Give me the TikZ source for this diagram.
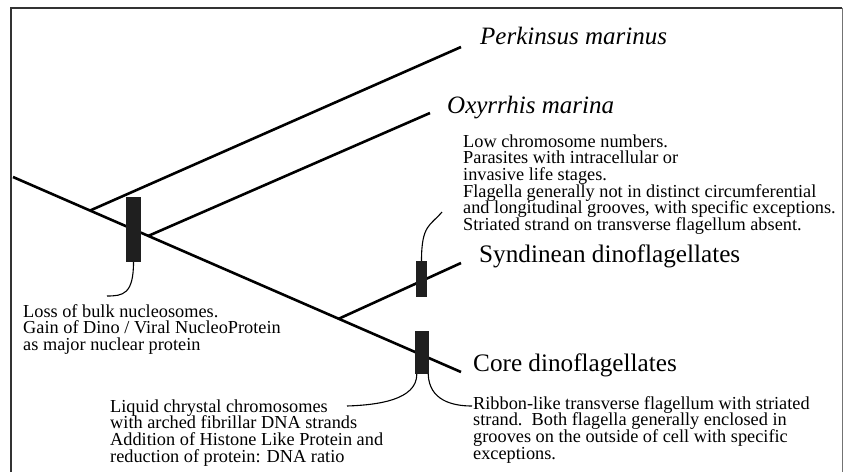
\documentclass[tikz,border=0pt]{standalone}
\usepackage{fontspec}
\setmainfont{Liberation Serif}
\usetikzlibrary{positioning, calc}
\newcommand{\notefont}{\fontsize{18.3}{16.7}\selectfont\lineskiplimit-20pt\relax}

\tikzset{
  branch/.style={line width=2.6pt},
  marker/.style={fill=black!88, inner sep=0pt},
  leader/.style={line width=1.1pt},
  taxon/.style={font=\fontsize{25.2}{27}\selectfont, anchor=base west, inner sep=0pt},
  note/.style={font=\notefont, align=left, anchor=base west, inner sep=0pt},
}

\begin{document}
\begin{tikzpicture}[x=1pt, y=-1pt]
    \useasboundingbox (0,0) rectangle (843,472);

    % Frame, open at the bottom
    \draw[line width=1.6pt, black!80] (10.8,472) -- (10.8,7.8) -- (842,7.8);
    \draw[line width=0.9pt, black!55] (842,7.8) -- (842,472);

    % Tree
    \coordinate (root) at (13,177);
    \coordinate (tCore) at (461,372);
    \coordinate (jPerk) at ($(root)!0.172!(tCore)$);
    \coordinate (jOxy) at ($(root)!0.302!(tCore)$);
    \coordinate (jSynd) at ($(root)!0.727!(tCore)$);
    \coordinate (tPerk) at (461,47);
    \coordinate (tOxy) at (430,113);
    \coordinate (tSynd) at (461,263);
    \draw[branch] (root) -- (tCore);
    \draw[branch] (jPerk) -- (tPerk);
    \draw[branch] (jOxy) -- (tOxy);
    \draw[branch] (jSynd) -- (tSynd);

    % Character bars
    \node[marker, minimum width=15pt, minimum height=65pt] (barA) at (133.5,229.5) {};
    \node[marker, minimum width=11pt, minimum height=36pt] (barB) at (421.5,279) {};
    \node[marker, minimum width=14pt, minimum height=43pt] (barC) at (422,352.5) {};

    % Taxa
    \node[taxon, font=\fontsize{25}{27}\selectfont\itshape] (perk) at (480,44) {Perkinsus marinus};
    \node[taxon, font=\fontsize{25}{27}\selectfont\itshape] (oxy) at (447,113) {Oxyrrhis marina};
    \node[taxon] (synd) at (479,262) {Syndinean dinoflagellates};
    \node[taxon] (core) at (473,371) {Core dinoflagellates};

    % Notes (base = baseline of the last line)
    \node[note] (noteA) at (23,350.4) {Loss of bulk nucleosomes.\\Gain of Dino / Viral NucleoProtein\\as major nuclear protein};
    \node[note] (noteB) at (463,230.5) {Low chromosome numbers.\\Parasites with intracellular or\\invasive life stages.\\Flagella generally not in distinct circumferential\\and longitudinal grooves, with specific exceptions.\\Striated strand on transverse flagellum absent.};
    \node[note] (noteCl) at (110,462.1) {Liquid chrystal chromosomes\\with arched fibrillar DNA strands\\Addition of Histone Like Protein and\\reduction of protein: DNA ratio};
    \node[note] (noteCr) at (473,459.1) {Ribbon-like transverse flagellum with striated\\strand.\ \ Both flagella generally enclosed in\\grooves on the outside of cell with specific\\exceptions.};

    % Leaders
    \coordinate (lA) at (107,296);
    \coordinate (lB) at (442,212);
    \coordinate (lCl) at (347,406);
    \coordinate (lCr) at (472,406);
    \draw[leader] (barA.south) .. controls +(0,32) and +(16,0) .. (lA);
    \draw[leader] (barB.north) .. controls +(0,-36) and +(-12,14) .. (lB);
    \draw[leader] ([xshift=2pt]barC.south west) .. controls +(0,26) and +(30,-1) .. (lCl);
    \draw[leader] ([xshift=-1pt]barC.south east) .. controls +(1,26) and +(-20,0) .. (lCr);
\end{tikzpicture}
\end{document}
